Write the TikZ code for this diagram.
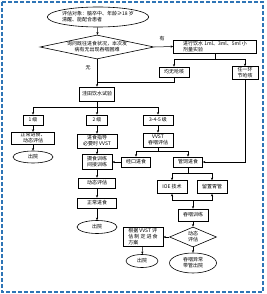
\documentclass[tikz,border=0pt]{standalone}
\usepackage{fontspec}
\setmainfont{Noto Sans CJK SC}
\usetikzlibrary{arrows.meta, positioning, shapes.geometric}

\definecolor{frameblue}{RGB}{46,117,182}

\begin{document}
\begin{tikzpicture}[
            x=1pt, y=-1pt,
            >={Stealth[length=2.6pt,width=2.2pt]},
            every node/.style={font=\fontsize{5}{6}\selectfont},
            block/.style={
                draw,
                rectangle,
                minimum height=10pt,
                align=center,
                inner sep=0.5pt,
                line width=0.6pt
            },
            terminal/.style={
                draw,
                ellipse,
                inner sep=0pt,
                align=center,
                line width=0.6pt
            },
            decision/.style={
                draw,
                diamond,
                inner sep=0pt,
                align=center,
                line width=0.6pt
            },
            line/.style={line width=0.5pt},
            flow/.style={->, line width=0.5pt}
        ]
            \useasboundingbox (0,0) rectangle (266,294);

            % Moldura tracejada
            \draw [frameblue, line width=1.4pt, dash pattern=on 4pt off 2pt] (2,2) rectangle (263,292);

            % Inicio e triagem
            \node [terminal, minimum width=100pt, minimum height=20pt, align=left] (start) at (98,17)
                {评估对象：脑卒中、年龄≥18 岁\\清醒、能配合患者};
            \node [decision, aspect=4.75, minimum width=114pt, minimum height=24pt] (ask) at (97,47)
                {询问既往进食状况，本次发\\病有无出现吞咽困难};
            \node [block, minimum width=83pt, minimum height=13pt, align=left] (test) at (215,46.5)
                {进行饮水 1ml、3ml、5ml 小\\剂量实验};
            \node [block, minimum width=30pt] (allok) at (174,72) {均无呛咳};
            \node [block, minimum width=26pt, minimum height=13pt] (anycough) at (245,73) {任一环\\节呛咳};
            \node (yes) at (162,39) {有};
            \node (no) at (88,68) {无};

            % Teste de agua
            \node [block, minimum width=35pt, minimum height=14pt] (water) at (97,94) {洼田饮水试验};
            \node [block, minimum width=20pt] (g1) at (33,120) {1 级};
            \node [block, minimum width=21pt] (g2) at (97,120) {2 级};
            \node [block, minimum width=30pt] (g3) at (158,120) {3-4-5 级};

            % Ramo 1
            \node [block, minimum width=43pt, minimum height=11pt] (normal1) at (33,138) {正常进食、\\动态评估};
            \node [terminal, minimum width=40pt, minimum height=12pt] (out1) at (33,157) {出院};

            % Ramo 2
            \node [block, minimum width=40pt, minimum height=14pt] (guide) at (97,141) {进食指导\\必要时 VVST};
            \node [block, minimum width=30pt, minimum height=15pt] (train) at (97,162) {摄食训练\\间接训练};
            \node [block, minimum width=37pt] (eval2) at (97,183) {动态评估};
            \node [block, minimum width=39pt] (normal2) at (97,203) {正常进食};
            \node [terminal, minimum width=40pt, minimum height=13pt] (out2) at (97,227) {出院};

            % Ramo 3-4-5
            \node [block, minimum width=30pt, minimum height=14pt] (vvst) at (158,140) {VVST\\吞咽评估};
            \node [block, minimum width=29pt] (oral) at (136,162) {经口进食};
            \node [block, minimum width=29pt] (tube) at (188,162) {管饲进食};
            \node [block, minimum width=30pt, minimum height=13pt] (ioe) at (172,187) {IOE 技术};
            \node [block, minimum width=30pt, minimum height=13pt] (gastric) at (212,187) {留置胃管};
            \node [block, minimum width=30pt, minimum height=12pt] (swallow) at (193,215) {吞咽训练};
            \node [decision, aspect=2.35, minimum width=47pt, minimum height=20pt] (dyn) at (193,237) {动态\\评估};
            \node [block, minimum width=40pt, minimum height=19pt, align=left] (plan) at (143,237)
                {根据 VVST 评\\估 制 定 进 食\\方案};
            \node [terminal, minimum width=32pt, minimum height=13pt] (out3) at (142,261) {出院};
            \node [terminal, minimum width=47pt, minimum height=20pt] (abn) at (193,263) {吞咽异常\\带管出院};

            % Ligacoes
            \coordinate (split0) at (215,59);
            \coordinate (join0) at (97,82);
            \coordinate (split1) at (97,107);
            \coordinate (split2) at (158,151);
            \coordinate (split3) at (188,173);
            \coordinate (merge) at (193,200);

            \draw [flow] (start) -- (ask);
            \draw [flow] (ask.east) -- (test.west);
            \draw [line] (test.south) -- (split0);
            \draw [flow] (split0) -| (allok.north);
            \draw [flow] (split0) -| (anycough.north);
            \draw [line] (allok.south) |- (join0);
            \draw [flow] (ask.south) -- (water.north);
            \draw [line] (water.south) -- (split1);
            \draw [flow] (split1) -| (g1.north);
            \draw [flow] (split1) -- (g2.north);
            \draw [flow] (split1) -| (g3.north);
            \draw [flow] (g1) -- (normal1);
            \draw [flow] (normal1) -- (out1);
            \draw [flow] (g2) -- (guide);
            \draw [flow] (guide) -- (train);
            \draw [flow] (oral) -- (train);
            \draw [flow] (train) -- (eval2);
            \draw [flow] (eval2) -- (normal2);
            \draw [flow] (normal2) -- (out2);
            \draw [flow] (g3) -- (vvst);
            \draw [line] (vvst.south) -- (split2);
            \draw [flow] (split2) -| (oral.north);
            \draw [flow] (split2) -| (tube.north);
            \draw [flow] (anycough.south) |- (tube.east);
            \draw [line] (tube.south) -- (split3);
            \draw [flow] (split3) -| (ioe.north);
            \draw [flow] (split3) -| (gastric.north);
            \draw [flow] (merge) -| (ioe.south);
            \draw [flow] (merge) -| (gastric.south);
            \draw [flow] (merge) -- (swallow.north);
            \draw [flow] (swallow) -- (dyn);
            \draw [flow] (dyn.west) -- (plan.east);
            \draw [flow] (plan) -- (out3);
            \draw [flow] (dyn) -- (abn);
        \end{tikzpicture}
\end{document}
